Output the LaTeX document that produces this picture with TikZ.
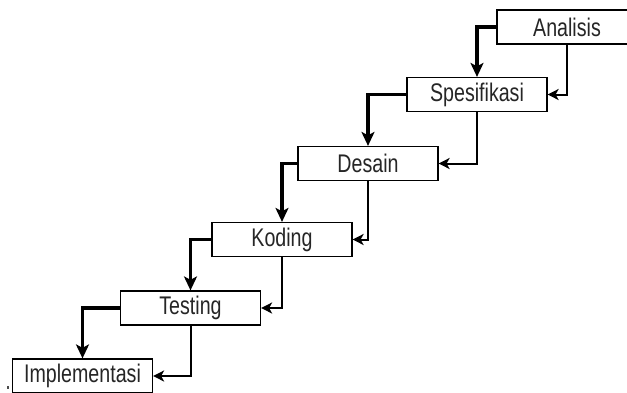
\documentclass[tikz,border=0pt]{standalone}
\usepackage{fontspec}
\setmainfont{Liberation Sans}
\usepackage{graphicx}
\usetikzlibrary{arrows.meta}
\newcommand{\steptext}[1]{\scalebox{0.77}[1]{\fontsize{25.5}{30}\selectfont #1}}
\tikzset{
  stagebox/.style={draw=black, line width=1.2pt, fill=white, minimum width=140pt, minimum height=34pt, inner sep=0pt, anchor=center, text=black!85},
  mainflow/.style={line width=3.2pt, -{Stealth[length=14pt,width=13pt,inset=3.5pt]}},
  backflow/.style={line width=2pt, -{Stealth[length=11pt,width=11pt,inset=3pt]}}
}
\begin{document}
\begin{tikzpicture}[x=1pt,y=-1pt]
\useasboundingbox (0,0) rectangle (627,392);
\node[stagebox] (an) at (567,27) {\steptext{Analisis}};
\node[stagebox] (sp) at (477,94.5) {\steptext{Spesifikasi}};
\node[stagebox] (de) at (368,163.5) {\steptext{Desain}};
\node[stagebox] (ko) at (282,239.5) {\steptext{Koding}};
\node[stagebox] (te) at (190.5,308) {\steptext{Testing}};
\node[stagebox] (im) at (82.5,376) {\steptext{Implementasi}};
\draw[mainflow] (an.west) -| (sp.north);
\draw[backflow] (an.south) |- (sp.east);
\draw[mainflow] (sp.west) -| (de.north);
\draw[backflow] (sp.south) |- (de.east);
\draw[mainflow] (de.west) -| (ko.north);
\draw[backflow] (de.south) |- (ko.east);
\draw[mainflow] (ko.west) -| (te.north);
\draw[backflow] (ko.south) |- (te.east);
\draw[mainflow] (te.west) -| (im.north);
\draw[backflow] (te.south) |- (im.east);
\fill[black!70] (7,386) rectangle (9,388.5);
\end{tikzpicture}
\end{document}
